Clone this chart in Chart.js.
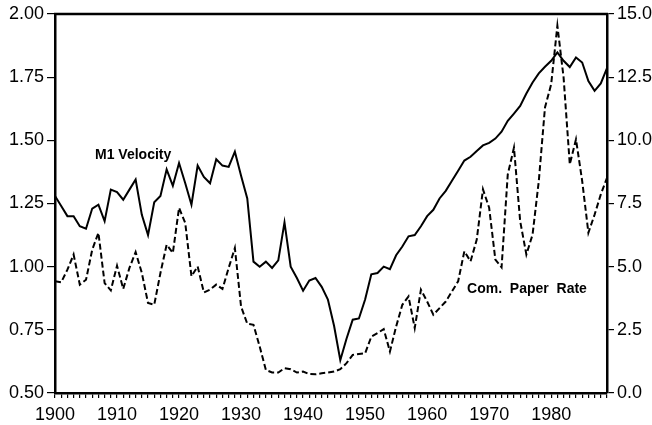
<!DOCTYPE html>
<html>
<head>
<meta charset="utf-8">
<script src="https://cdn.jsdelivr.net/npm/chart.js@4/dist/chart.umd.min.js"></script>
<style>
  body { margin: 0; background: #fff; }
  #wrap { width: 652px; height: 425px; }
</style>
</head>
<body>
<div id="wrap"><canvas id="chart"></canvas></div>
<script>
// years 1900 - 1989
var years = [];
for (var yr = 1900; yr <= 1989; yr++) years.push(yr);

// M1 velocity (left axis)
var m1Velocity = [
  1.28, 1.24, 1.20, 1.20, 1.16, 1.15, 1.23, 1.245, 1.18, 1.305,
  1.295, 1.265, 1.305, 1.345, 1.205, 1.125, 1.255, 1.28, 1.385, 1.32,
  1.41, 1.33, 1.245, 1.40, 1.355, 1.33, 1.425, 1.40, 1.395, 1.455,
  1.36, 1.27, 1.02, 1.00, 1.02, 0.995, 1.025, 1.175, 1.00, 0.955,
  0.905, 0.945, 0.955, 0.92, 0.87, 0.765, 0.63, 0.715, 0.79, 0.795,
  0.87, 0.97, 0.975, 1.00, 0.99, 1.045, 1.08, 1.12, 1.125, 1.16,
  1.20, 1.225, 1.27, 1.30, 1.34, 1.38, 1.42, 1.435, 1.458, 1.48,
  1.49, 1.507, 1.534, 1.577, 1.606, 1.636, 1.685, 1.729, 1.765, 1.791,
  1.815, 1.848, 1.815, 1.79, 1.828, 1.808, 1.735, 1.696, 1.725, 1.786
];

// commercial paper rate, percent (right axis)
var comPaperRate = [
  4.42, 4.38, 4.88, 5.48, 4.29, 4.48, 5.67, 6.34, 4.35, 4.06,
  5.04, 4.12, 4.95, 5.58, 4.75, 3.56, 3.49, 4.75, 5.87, 5.54,
  7.33, 6.73, 4.62, 5.01, 3.98, 4.09, 4.29, 4.12, 4.95, 5.74,
  3.42, 2.74, 2.70, 1.84, 0.91, 0.81, 0.81, 0.98, 0.94, 0.81,
  0.85, 0.75, 0.74, 0.78, 0.81, 0.85, 0.94, 1.18, 1.51, 1.54,
  1.57, 2.23, 2.37, 2.53, 1.64, 2.63, 3.49, 3.82, 2.57, 4.09,
  3.62, 3.10, 3.36, 3.62, 4.02, 4.42, 5.61, 5.21, 6.07, 8.06,
  7.33, 5.28, 4.97, 8.65, 9.71, 6.80, 5.48, 6.27, 8.38, 11.30,
  12.22, 14.54, 12.49, 9.05, 10.04, 8.39, 6.34, 7.06, 7.86, 8.52
];

var leftTicks = [0.50, 0.75, 1.00, 1.25, 1.50, 1.75, 2.00];
var rightTicks = [0.0, 2.5, 5.0, 7.5, 10.0, 12.5, 15.0];
var decadeLabels = [1900, 1910, 1920, 1930, 1940, 1950, 1960, 1970, 1980];

function toPoints(vals) {
  return vals.map(function(v, i) { return { x: years[i], y: v }; });
}

var tickFont = { family: 'Liberation Sans', size: 18 };

// frame on top + series labels
var framePlugin = {
  id: 'frame',
  afterDatasetsDraw: function(chart) {
    var ctx = chart.ctx, a = chart.chartArea;
    ctx.save();
    ctx.strokeStyle = '#000';
    ctx.lineWidth = 2.5;
    ctx.beginPath();
    ctx.moveTo(a.left - 1, a.top);
    ctx.lineTo(a.right + 1, a.top);
    ctx.stroke();

    ctx.fillStyle = '#000';
    ctx.font = 'bold 14px "Liberation Sans"';
    ctx.textAlign = 'center';
    ctx.textBaseline = 'middle';
    var sx = chart.scales.x;
    ctx.fillText('M1 Velocity', sx.getPixelForValue(1912.6), chart.scales.y.getPixelForValue(1.44));
    ctx.fillText('Com.  Paper  Rate', sx.getPixelForValue(1976.1), chart.scales.y2.getPixelForValue(4.1));
    ctx.restore();
  }
};

new Chart(document.getElementById('chart'), {
  type: 'line',
  data: {
    datasets: [{
      label: 'M1 Velocity',
      data: toPoints(m1Velocity),
      yAxisID: 'y',
      borderColor: '#000',
      borderWidth: 2,
      pointRadius: 0,
      tension: 0
    }, {
      label: 'Com. Paper Rate',
      data: toPoints(comPaperRate),
      yAxisID: 'y2',
      borderColor: '#000',
      borderWidth: 2,
      borderDash: [6, 3],
      pointRadius: 0,
      tension: 0
    }]
  },
  options: {
    responsive: true,
    maintainAspectRatio: false,
    animation: false,
    layout: { padding: { top: 14, left: 0, right: 0, bottom: 0 } },
    plugins: { legend: { display: false }, tooltip: { enabled: false } },
    scales: {
      x: {
        type: 'linear',
        min: 1900,
        max: 1989,
        afterBuildTicks: function(scale) {
          scale.ticks = years.map(function(v) { return { value: v }; });
        },
        afterFit: function(scale) { scale.height = 32; },
        border: { color: '#000', width: 2.5 },
        grid: { drawOnChartArea: false, color: '#000', tickLength: 5, lineWidth: 1.2 },
        ticks: {
          autoSkip: false,
          maxRotation: 0,
          padding: 6,
          color: '#000',
          font: tickFont,
          callback: function(v) { return decadeLabels.indexOf(v) >= 0 ? String(v) : ''; }
        }
      },
      y: {
        position: 'left',
        min: 0.5,
        max: 2.0,
        afterBuildTicks: function(scale) {
          scale.ticks = leftTicks.map(function(v) { return { value: v }; });
        },
        afterFit: function(scale) { scale.width = 55; },
        border: { color: '#000', width: 2.5 },
        grid: { drawOnChartArea: false, color: '#000', tickLength: 8, lineWidth: 1.2 },
        ticks: { color: '#000', font: tickFont, padding: 3,
          callback: function(v) { return v.toFixed(2); } }
      },
      y2: {
        position: 'right',
        min: 0,
        max: 15,
        afterBuildTicks: function(scale) {
          scale.ticks = rightTicks.map(function(v) { return { value: v }; });
        },
        afterFit: function(scale) { scale.width = 45; },
        border: { color: '#000', width: 2.5 },
        grid: { drawOnChartArea: false, color: '#000', tickLength: 7, lineWidth: 1.2 },
        ticks: { color: '#000', font: tickFont, padding: 3,
          callback: function(v) { return v.toFixed(1); } }
      }
    }
  },
  plugins: [framePlugin]
});
</script>
</body>
</html>
